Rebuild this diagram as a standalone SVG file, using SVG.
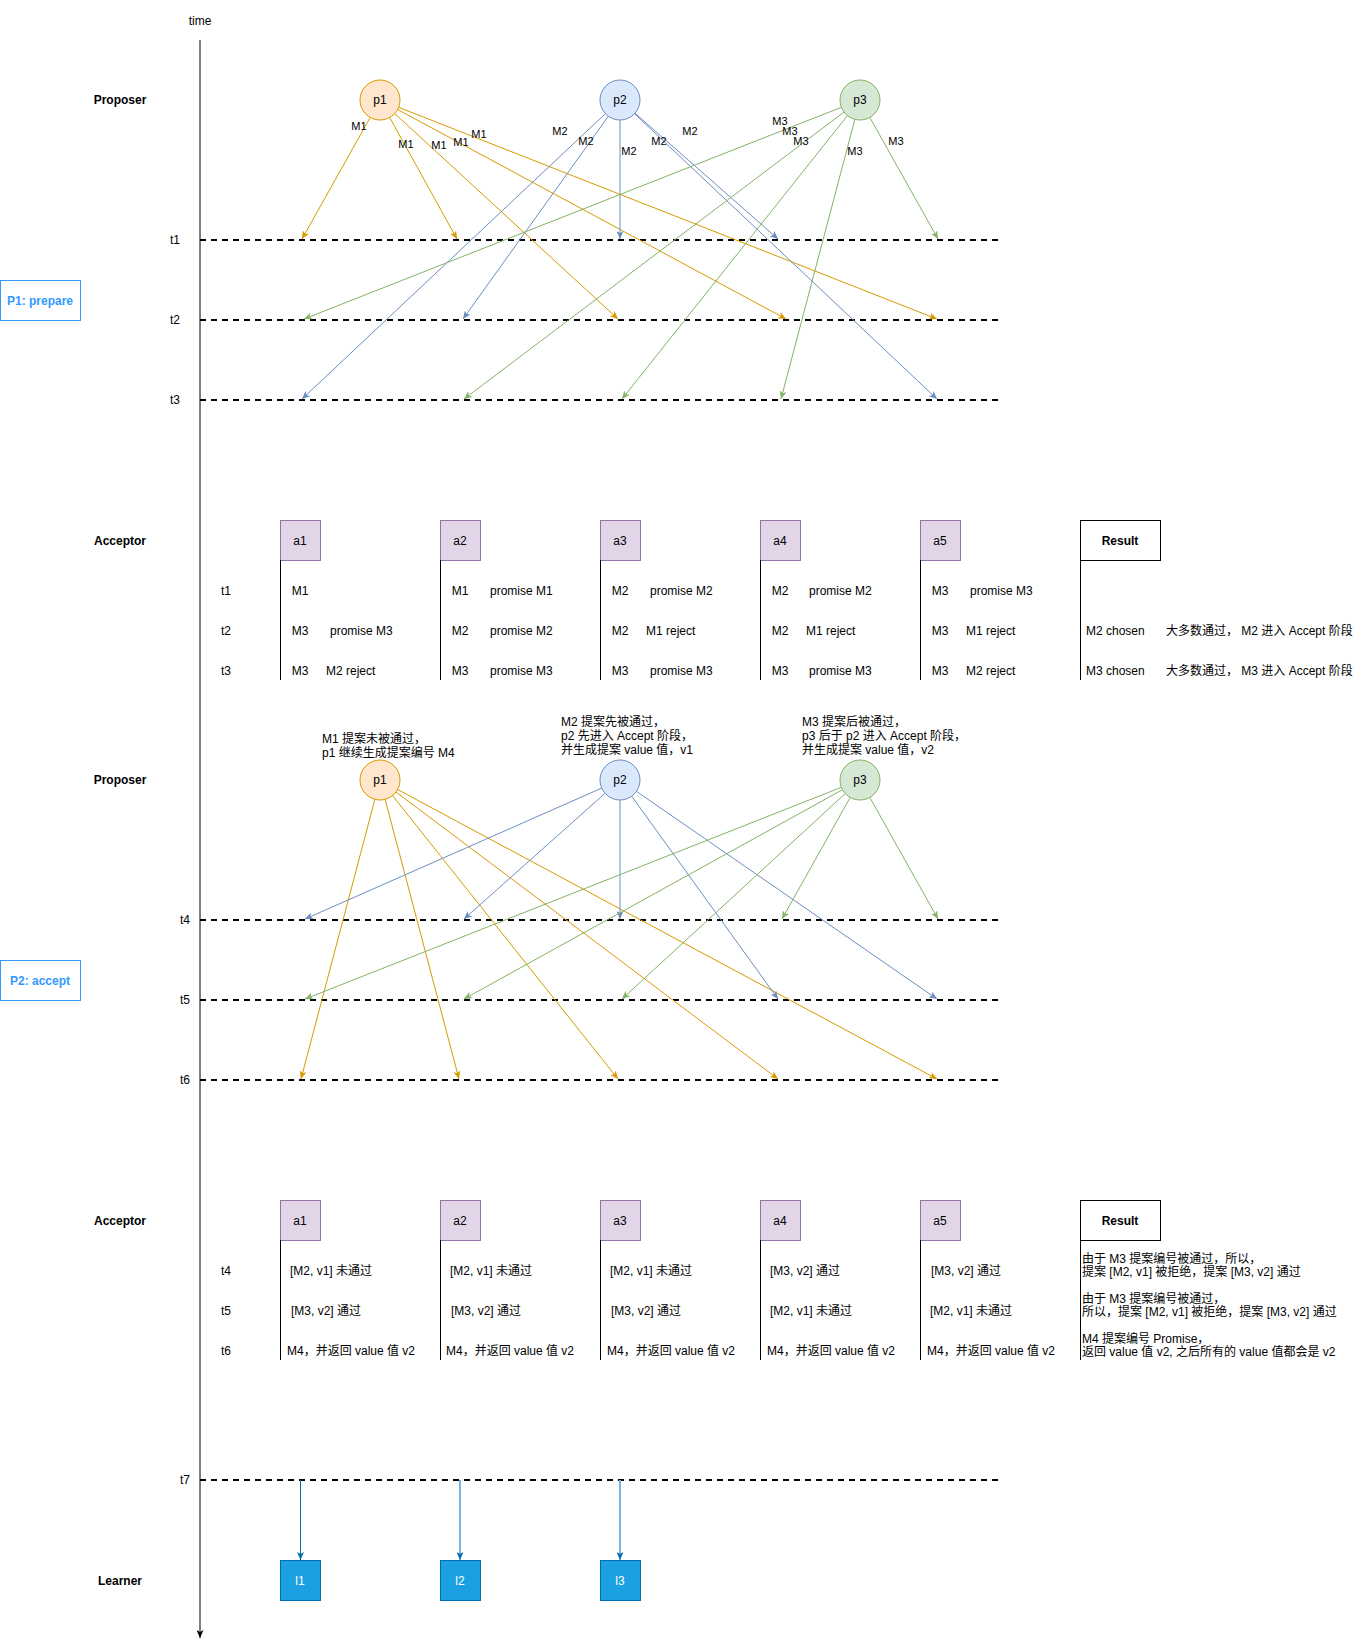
<svg xmlns="http://www.w3.org/2000/svg" width="1361" height="1649" viewBox="0 0 1361 1649">
  <style>
    text { font-family: "Liberation Sans", "Noto Sans CJK SC", sans-serif; font-size: 12px; fill: #000; }
    .c { text-anchor: middle; }
    .b { font-weight: bold; }
    .s { font-size: 11px; }
    .note { font-size: 12px; }
    .w { fill: #fff; }
    .phase { fill: #3399ff; font-weight: bold; }
    .dash { stroke: #000; stroke-width: 2; stroke-dasharray: 6 5; fill: none; }
    .o { stroke: #d79b00; fill: none; marker-end: url(#ao); }
    .bl { stroke: #6c8ebf; fill: none; marker-end: url(#ab); }
    .g { stroke: #82b366; fill: none; marker-end: url(#ag); }
    .acc rect { fill: #e1d5e7; stroke: #9673a6; }
    .res rect { fill: #fff; stroke: #000; }
    .col { stroke: #000; stroke-width: 1; }
    .lrn rect { fill: #1ba1e2; stroke: #006eaf; }
  </style>
  <defs>
    <marker id="ao" viewBox="0 0 8 7" refX="8" refY="3.5" markerWidth="8" markerHeight="7" orient="auto" markerUnits="userSpaceOnUse"><path d="M0,0 L8,3.5 L0,7 L2,3.5 Z" fill="#d79b00"/></marker>
    <marker id="ab" viewBox="0 0 8 7" refX="8" refY="3.5" markerWidth="8" markerHeight="7" orient="auto" markerUnits="userSpaceOnUse"><path d="M0,0 L8,3.5 L0,7 L2,3.5 Z" fill="#6c8ebf"/></marker>
    <marker id="ag" viewBox="0 0 8 7" refX="8" refY="3.5" markerWidth="8" markerHeight="7" orient="auto" markerUnits="userSpaceOnUse"><path d="M0,0 L8,3.5 L0,7 L2,3.5 Z" fill="#82b366"/></marker>
    <marker id="al" viewBox="0 0 8 7" refX="8" refY="3.5" markerWidth="8" markerHeight="7" orient="auto" markerUnits="userSpaceOnUse"><path d="M0,0 L8,3.5 L0,7 L2,3.5 Z" fill="#006eaf"/></marker>
    <marker id="ak" viewBox="0 0 8 7" refX="8" refY="3.5" markerWidth="8" markerHeight="7" orient="auto" markerUnits="userSpaceOnUse"><path d="M0,0 L8,3.5 L0,7 L2,3.5 Z" fill="#000"/></marker>
  </defs>

  <rect width="1361" height="1649" fill="#fff"/>

  <!-- time axis -->
  <g id="time-axis">
    <line x1="200" y1="40" x2="200" y2="1638" stroke="#000" marker-end="url(#ak)"/>
    <text class="c" x="200" y="25">time</text>
  </g>

  <!-- row headers -->
  <g id="headers">
    <text class="c b" x="120" y="104">Proposer</text>
    <text class="c b" x="120" y="545">Acceptor</text>
    <text class="c b" x="120" y="784">Proposer</text>
    <text class="c b" x="120" y="1225">Acceptor</text>
    <text class="c b" x="120" y="1585">Learner</text>
  </g>

  <g id="phase1-label">
    <rect x="0.5" y="280.5" width="80" height="40" fill="#fff" stroke="#3399ff"/>
    <text class="c phase" x="40" y="305">P1: prepare</text>
  </g>
  <g id="phase2-label">
    <rect x="0.5" y="960.5" width="80" height="40" fill="#fff" stroke="#3399ff"/>
    <text class="c phase" x="40" y="985">P2: accept</text>
  </g>

  <!-- time marks -->
  <g id="timelines">
    <line class="dash" x1="200" y1="240" x2="1000" y2="240"/>
    <line class="dash" x1="200" y1="320" x2="1000" y2="320"/>
    <line class="dash" x1="200" y1="400" x2="1000" y2="400"/>
    <line class="dash" x1="200" y1="920" x2="1000" y2="920"/>
    <line class="dash" x1="200" y1="1000" x2="1000" y2="1000"/>
    <line class="dash" x1="200" y1="1080" x2="1000" y2="1080"/>
    <line class="dash" x1="200" y1="1480" x2="1000" y2="1480"/>
    <text class="c" x="175" y="244">t1</text>
    <text class="c" x="175" y="324">t2</text>
    <text class="c" x="175" y="404">t3</text>
    <text class="c" x="185" y="924">t4</text>
    <text class="c" x="185" y="1004">t5</text>
    <text class="c" x="185" y="1084">t6</text>
    <text class="c" x="185" y="1484">t7</text>
  </g>

  <!-- message connectors -->
  <g id="connectors">
    <!-- prepare: p1 -->
    <line class="o" x1="370.2" y1="117.4" x2="302" y2="239"/>
    <line class="o" x1="389.7" y1="117.5" x2="457" y2="239"/>
    <line class="o" x1="394.7" y1="113.5" x2="618" y2="319"/>
    <line class="o" x1="397.6" y1="109.5" x2="786" y2="319"/>
    <line class="o" x1="398.6" y1="107.3" x2="937" y2="319"/>
    <!-- prepare: p2 -->
    <line class="bl" x1="605.4" y1="113.7" x2="302" y2="399"/>
    <line class="bl" x1="608.3" y1="116.3" x2="463" y2="319"/>
    <line class="bl" x1="620" y1="120" x2="620" y2="239"/>
    <line class="bl" x1="635" y1="113.2" x2="778" y2="239"/>
    <line class="bl" x1="634.5" y1="113.7" x2="937" y2="399"/>
    <!-- prepare: p3 -->
    <line class="g" x1="841.4" y1="107.3" x2="304" y2="319"/>
    <line class="g" x1="844" y1="112.1" x2="464" y2="399"/>
    <line class="g" x1="847.5" y1="115.6" x2="622" y2="399"/>
    <line class="g" x1="854.9" y1="119.3" x2="781" y2="399"/>
    <line class="g" x1="869.8" y1="117.4" x2="938" y2="239"/>

    <!-- accept: p1 -->
    <line class="o" x1="374.9" y1="799.3" x2="301" y2="1079"/>
    <line class="o" x1="385.1" y1="799.3" x2="459" y2="1079"/>
    <line class="o" x1="392.5" y1="795.6" x2="618" y2="1079"/>
    <line class="o" x1="396" y1="792" x2="778" y2="1079"/>
    <line class="o" x1="397.6" y1="789.5" x2="937" y2="1079"/>
    <!-- accept: p2 -->
    <line class="bl" x1="601.7" y1="788.1" x2="305" y2="919"/>
    <line class="bl" x1="605.1" y1="793.3" x2="464" y2="919"/>
    <line class="bl" x1="620" y1="800" x2="620" y2="919"/>
    <line class="bl" x1="631.7" y1="796.2" x2="778" y2="999"/>
    <line class="bl" x1="636.5" y1="791.4" x2="937" y2="999"/>
    <!-- accept: p3 -->
    <line class="g" x1="841.4" y1="787.3" x2="305" y2="999"/>
    <line class="g" x1="842.5" y1="789.7" x2="464" y2="999"/>
    <line class="g" x1="845.3" y1="793.5" x2="622" y2="999"/>
    <line class="g" x1="850.2" y1="797.4" x2="782" y2="919"/>
    <line class="g" x1="869.8" y1="797.4" x2="938" y2="919"/>

    <!-- learners -->
    <line x1="300.5" y1="1480" x2="300.5" y2="1560" stroke="#006eaf" marker-end="url(#al)"/>
    <line x1="460" y1="1480" x2="460" y2="1560" stroke="#79b4dc" stroke-width="2" marker-end="url(#al)"/>
    <line x1="620" y1="1480" x2="620" y2="1560" stroke="#79b4dc" stroke-width="2" marker-end="url(#al)"/>

    <!-- prepare message labels -->
    <g>
      <text class="c s" x="359" y="130">M1</text>
      <text class="c s" x="406" y="148">M1</text>
      <text class="c s" x="439" y="149">M1</text>
      <text class="c s" x="461" y="146">M1</text>
      <text class="c s" x="479" y="138">M1</text>
      <text class="c s" x="560" y="135">M2</text>
      <text class="c s" x="586" y="145">M2</text>
      <text class="c s" x="629" y="155">M2</text>
      <text class="c s" x="659" y="145">M2</text>
      <text class="c s" x="690" y="135">M2</text>
      <text class="c s" x="780" y="125">M3</text>
      <text class="c s" x="790" y="135">M3</text>
      <text class="c s" x="801" y="145">M3</text>
      <text class="c s" x="855" y="155">M3</text>
      <text class="c s" x="896" y="145">M3</text>
    </g>
  </g>

  <!-- proposers, prepare phase -->
  <g id="p1-prepare"><circle cx="380" cy="100" r="20" fill="#ffe6cc" stroke="#d79b00"/><text class="c" x="380" y="104">p1</text></g>
  <g id="p2-prepare"><circle cx="620" cy="100" r="20" fill="#dae8fc" stroke="#6c8ebf"/><text class="c" x="620" y="104">p2</text></g>
  <g id="p3-prepare"><circle cx="860" cy="100" r="20" fill="#d5e8d4" stroke="#82b366"/><text class="c" x="860" y="104">p3</text></g>

  <!-- acceptors, prepare phase -->
  <g id="acceptor-rows-1">
    <text class="c" x="226" y="595">t1</text>
    <text class="c" x="226" y="635">t2</text>
    <text class="c" x="226" y="675">t3</text>
  </g>
  <g id="a1-prepare" class="acc">
    <rect x="280.5" y="520.5" width="40" height="40"/><text class="c" x="300" y="545">a1</text>
    <line class="col" x1="280.5" y1="560" x2="280.5" y2="680"/>
    <text class="c" x="300" y="595">M1</text>
    <text class="c" x="300" y="635">M3</text><text x="330" y="635">promise M3</text>
    <text class="c" x="300" y="675">M3</text><text x="326" y="675">M2 reject</text>
  </g>
  <g id="a2-prepare" class="acc">
    <rect x="440.5" y="520.5" width="40" height="40"/><text class="c" x="460" y="545">a2</text>
    <line class="col" x1="440.5" y1="560" x2="440.5" y2="680"/>
    <text class="c" x="460" y="595">M1</text><text x="490" y="595">promise M1</text>
    <text class="c" x="460" y="635">M2</text><text x="490" y="635">promise M2</text>
    <text class="c" x="460" y="675">M3</text><text x="490" y="675">promise M3</text>
  </g>
  <g id="a3-prepare" class="acc">
    <rect x="600.5" y="520.5" width="40" height="40"/><text class="c" x="620" y="545">a3</text>
    <line class="col" x1="600.5" y1="560" x2="600.5" y2="680"/>
    <text class="c" x="620" y="595">M2</text><text x="650" y="595">promise M2</text>
    <text class="c" x="620" y="635">M2</text><text x="646" y="635">M1 reject</text>
    <text class="c" x="620" y="675">M3</text><text x="650" y="675">promise M3</text>
  </g>
  <g id="a4-prepare" class="acc">
    <rect x="760.5" y="520.5" width="40" height="40"/><text class="c" x="780" y="545">a4</text>
    <line class="col" x1="760.5" y1="560" x2="760.5" y2="680"/>
    <text class="c" x="780" y="595">M2</text><text x="809" y="595">promise M2</text>
    <text class="c" x="780" y="635">M2</text><text x="806" y="635">M1 reject</text>
    <text class="c" x="780" y="675">M3</text><text x="809" y="675">promise M3</text>
  </g>
  <g id="a5-prepare" class="acc">
    <rect x="920.5" y="520.5" width="40" height="40"/><text class="c" x="940" y="545">a5</text>
    <line class="col" x1="920.5" y1="560" x2="920.5" y2="680"/>
    <text class="c" x="940" y="595">M3</text><text x="970" y="595">promise M3</text>
    <text class="c" x="940" y="635">M3</text><text x="966" y="635">M1 reject</text>
    <text class="c" x="940" y="675">M3</text><text x="966" y="675">M2 reject</text>
  </g>
  <g id="result-prepare" class="res">
    <rect x="1080.5" y="520.5" width="80" height="40"/><text class="c b" x="1120" y="545">Result</text>
    <line class="col" x1="1080.5" y1="560" x2="1080.5" y2="680"/>
    <text x="1086" y="635">M2 chosen</text><text x="1166" y="635">大多数通过， M2 进入 Accept 阶段</text>
    <text x="1086" y="675">M3 chosen</text><text x="1166" y="675">大多数通过， M3 进入 Accept 阶段</text>
  </g>

  <!-- proposers, accept phase -->
  <g id="p1-accept">
    <text class="note" x="322" y="743">M1 提案未被通过，</text>
    <text class="note" x="322" y="757">p1 继续生成提案编号 M4</text>
    <circle cx="380" cy="780" r="20" fill="#ffe6cc" stroke="#d79b00"/><text class="c" x="380" y="784">p1</text>
  </g>
  <g id="p2-accept">
    <text class="note" x="561" y="726">M2 提案先被通过，</text>
    <text class="note" x="561" y="740">p2 先进入 Accept 阶段，</text>
    <text class="note" x="561" y="754">并生成提案 value 值，v1</text>
    <circle cx="620" cy="780" r="20" fill="#dae8fc" stroke="#6c8ebf"/><text class="c" x="620" y="784">p2</text>
  </g>
  <g id="p3-accept">
    <text class="note" x="802" y="726">M3 提案后被通过，</text>
    <text class="note" x="802" y="740">p3 后于 p2 进入 Accept 阶段，</text>
    <text class="note" x="802" y="754">并生成提案 value 值，v2</text>
    <circle cx="860" cy="780" r="20" fill="#d5e8d4" stroke="#82b366"/><text class="c" x="860" y="784">p3</text>
  </g>

  <!-- acceptors, accept phase -->
  <g id="acceptor-rows-2">
    <text class="c" x="226" y="1275">t4</text>
    <text class="c" x="226" y="1315">t5</text>
    <text class="c" x="226" y="1355">t6</text>
  </g>
  <g id="a1-accept" class="acc">
    <rect x="280.5" y="1200.5" width="40" height="40"/><text class="c" x="300" y="1225">a1</text>
    <line class="col" x1="280.5" y1="1240" x2="280.5" y2="1360"/>
    <text x="290" y="1275">[M2, v1] 未通过</text>
    <text x="291" y="1315">[M3, v2] 通过</text>
    <text x="287" y="1355">M4，并返回 value 值 v2</text>
  </g>
  <g id="a2-accept" class="acc">
    <rect x="440.5" y="1200.5" width="40" height="40"/><text class="c" x="460" y="1225">a2</text>
    <line class="col" x1="440.5" y1="1240" x2="440.5" y2="1360"/>
    <text x="450" y="1275">[M2, v1] 未通过</text>
    <text x="451" y="1315">[M3, v2] 通过</text>
    <text x="446" y="1355">M4，并返回 value 值 v2</text>
  </g>
  <g id="a3-accept" class="acc">
    <rect x="600.5" y="1200.5" width="40" height="40"/><text class="c" x="620" y="1225">a3</text>
    <line class="col" x1="600.5" y1="1240" x2="600.5" y2="1360"/>
    <text x="610" y="1275">[M2, v1] 未通过</text>
    <text x="611" y="1315">[M3, v2] 通过</text>
    <text x="607" y="1355">M4，并返回 value 值 v2</text>
  </g>
  <g id="a4-accept" class="acc">
    <rect x="760.5" y="1200.5" width="40" height="40"/><text class="c" x="780" y="1225">a4</text>
    <line class="col" x1="760.5" y1="1240" x2="760.5" y2="1360"/>
    <text x="770" y="1275">[M3, v2] 通过</text>
    <text x="770" y="1315">[M2, v1] 未通过</text>
    <text x="767" y="1355">M4，并返回 value 值 v2</text>
  </g>
  <g id="a5-accept" class="acc">
    <rect x="920.5" y="1200.5" width="40" height="40"/><text class="c" x="940" y="1225">a5</text>
    <line class="col" x1="920.5" y1="1240" x2="920.5" y2="1360"/>
    <text x="931" y="1275">[M3, v2] 通过</text>
    <text x="930" y="1315">[M2, v1] 未通过</text>
    <text x="927" y="1355">M4，并返回 value 值 v2</text>
  </g>
  <g id="result-accept" class="res">
    <rect x="1080.5" y="1200.5" width="80" height="40"/><text class="c b" x="1120" y="1225">Result</text>
    <line class="col" x1="1080.5" y1="1240" x2="1080.5" y2="1360"/>
    <text x="1082" y="1263">由于 M3 提案编号被通过，所以，</text>
    <text x="1082" y="1276">提案 [M2, v1] 被拒绝，提案 [M3, v2] 通过</text>
    <text x="1082" y="1303">由于 M3 提案编号被通过，</text>
    <text x="1082" y="1316">所以，提案 [M2, v1] 被拒绝，提案 [M3, v2] 通过</text>
    <text x="1082" y="1343">M4 提案编号 Promise，</text>
    <text x="1082" y="1356">返回 value 值 v2, 之后所有的 value 值都会是 v2</text>
  </g>

  <!-- learners -->
  <g id="l1" class="lrn"><rect x="280.5" y="1560.5" width="40" height="40"/><text class="c w" x="300" y="1585">l1</text></g>
  <g id="l2" class="lrn"><rect x="440.5" y="1560.5" width="40" height="40"/><text class="c w" x="460" y="1585">l2</text></g>
  <g id="l3" class="lrn"><rect x="600.5" y="1560.5" width="40" height="40"/><text class="c w" x="620" y="1585">l3</text></g>
</svg>
